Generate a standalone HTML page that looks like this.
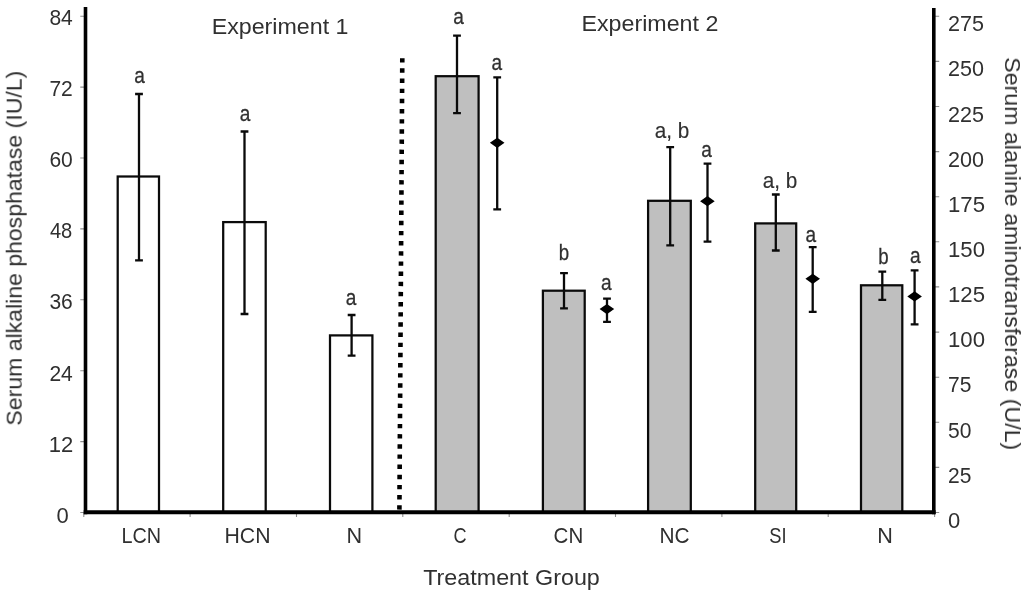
<!DOCTYPE html>
<html lang="en">
<head>
<meta charset="utf-8">
<title>Serum alkaline phosphatase and alanine aminotransferase by treatment group</title>
<style>
html,body{margin:0;padding:0;background:#fff;}
body{width:1024px;height:596px;overflow:hidden;}
svg{display:block;}
text{font-family:"Liberation Sans", sans-serif;fill:#303030;}
</style>
</head>
<body>
<svg width="1024" height="596" viewBox="0 0 1024 596">
<defs><filter id="soft" x="0" y="0" width="1024" height="596" filterUnits="userSpaceOnUse" color-interpolation-filters="sRGB"><feGaussianBlur stdDeviation="0.45"/></filter></defs>
<rect x="0" y="0" width="1024" height="596" fill="#ffffff"/>
<g filter="url(#soft)">
<g stroke="#0a0a0a" stroke-width="2.25" stroke-linejoin="miter">
<rect x="117.7" y="176.5" width="41.3" height="335.8" fill="#ffffff"/>
<rect x="223.2" y="222.1" width="42.5" height="290.2" fill="#ffffff"/>
<rect x="330.0" y="335.4" width="42.4" height="176.9" fill="#ffffff"/>
<rect x="435.7" y="76.2" width="42.9" height="436.1" fill="#bfbfbf"/>
<rect x="542.9" y="290.7" width="41.8" height="221.6" fill="#bfbfbf"/>
<rect x="648.1" y="200.8" width="42.7" height="311.5" fill="#bfbfbf"/>
<rect x="755.2" y="223.4" width="41.0" height="288.9" fill="#bfbfbf"/>
<rect x="861.0" y="285.3" width="41.3" height="227.0" fill="#bfbfbf"/>
</g>
<path d="M139.0 94.0V260.4M135.1 94.0H142.9M135.1 260.4H142.9M244.5 131.5V314.0M240.6 131.5H248.4M240.6 314.0H248.4M351.6 315.0V355.6M347.7 315.0H355.5M347.7 355.6H355.5M457.0 35.7V113.2M453.1 35.7H460.9M453.1 113.2H460.9M564.0 273.1V308.3M560.1 273.1H567.9M560.1 308.3H567.9M670.2 147.2V245.4M666.3 147.2H674.1M666.3 245.4H674.1M775.8 194.5V250.5M771.9 194.5H779.7M771.9 250.5H779.7M882.3 271.7V299.8M878.4 271.7H886.2M878.4 299.8H886.2M497.2 77.3V209.3M493.3 77.3H501.1M493.3 209.3H501.1M607.0 298.6V321.8M603.1 298.6H610.9M603.1 321.8H610.9M707.5 163.6V241.7M703.6 163.6H711.4M703.6 241.7H711.4M812.7 247.1V311.8M808.8 247.1H816.6M808.8 311.8H816.6M914.6 270.4V324.3M910.7 270.4H918.5M910.7 324.3H918.5" fill="none" stroke="#0a0a0a" stroke-width="2.3"/>
<path d="M489.9 142.8L497.2 137.7L504.5 142.8L497.2 147.9ZM599.6 309.1L606.9 304.0L614.2 309.1L606.9 314.2ZM700.1 201.2L707.4 196.1L714.7 201.2L707.4 206.3ZM805.4 278.8L812.7 273.7L820.0 278.8L812.7 283.9ZM907.3 296.4L914.6 291.3L921.9 296.4L914.6 301.5Z" fill="#000000"/>
<line x1="402.3" y1="58.2" x2="399.4" y2="510.4" stroke="#000000" stroke-width="4.6" stroke-dasharray="4.4 5.76"/>
<path d="M80.3 512.5H84.5M80.3 441.6H84.5M80.3 370.7H84.5M80.3 299.8H84.5M80.3 228.9H84.5M80.3 158.0H84.5M80.3 87.1H84.5M80.3 16.2H84.5M935 512.5H939.2M935 467.4H939.2M935 422.3H939.2M935 377.2H939.2M935 332.1H939.2M935 286.9H939.2M935 241.8H939.2M935 196.7H939.2M935 151.6H939.2M935 106.5H939.2M935 61.4H939.2M935 16.3H939.2M83.8 513.5V517M190.1 513.5V517M296.5 513.5V517M402.8 513.5V517M509.2 513.5V517M615.5 513.5V517M721.9 513.5V517M828.2 513.5V517M934.6 513.5V517" fill="none" stroke="#8f8f8f" stroke-width="1.1"/>
<g stroke="#000000" fill="none">
<line x1="85.5" y1="7.0" x2="85.5" y2="514.3" stroke-width="3.6"/>
<line x1="933.8" y1="8.0" x2="933.8" y2="514.3" stroke-width="3.6"/>
<line x1="83.7" y1="512.3" x2="935.6" y2="512.3" stroke-width="4"/>
</g>
<text x="62.6" y="522.6" font-size="22.0" text-anchor="middle">0</text>
<text x="61.1" y="451.5" font-size="22.0" text-anchor="middle" textLength="24.5" lengthAdjust="spacingAndGlyphs">12</text>
<text x="61.1" y="380.5" font-size="22.0" text-anchor="middle" textLength="23.4" lengthAdjust="spacingAndGlyphs">24</text>
<text x="61.1" y="309.4" font-size="22.0" text-anchor="middle" textLength="23.4" lengthAdjust="spacingAndGlyphs">36</text>
<text x="61.1" y="238.3" font-size="22.0" text-anchor="middle" textLength="22.4" lengthAdjust="spacingAndGlyphs">48</text>
<text x="61.1" y="167.3" font-size="22.0" text-anchor="middle" textLength="23.4" lengthAdjust="spacingAndGlyphs">60</text>
<text x="61.1" y="96.2" font-size="22.0" text-anchor="middle" textLength="23.4" lengthAdjust="spacingAndGlyphs">72</text>
<text x="61.1" y="25.1" font-size="22.0" text-anchor="middle" textLength="23.4" lengthAdjust="spacingAndGlyphs">84</text>
<text x="948.0" y="527.9" font-size="22.0" text-anchor="start">0</text>
<text x="948.0" y="482.8" font-size="22.0" text-anchor="start" textLength="23.4" lengthAdjust="spacingAndGlyphs">25</text>
<text x="948.0" y="437.6" font-size="22.0" text-anchor="start" textLength="23.4" lengthAdjust="spacingAndGlyphs">50</text>
<text x="948.0" y="392.4" font-size="22.0" text-anchor="start" textLength="23.4" lengthAdjust="spacingAndGlyphs">75</text>
<text x="948.0" y="347.3" font-size="22.0" text-anchor="start" textLength="37.0" lengthAdjust="spacingAndGlyphs">100</text>
<text x="948.0" y="302.1" font-size="22.0" text-anchor="start" textLength="37.0" lengthAdjust="spacingAndGlyphs">125</text>
<text x="948.0" y="257.0" font-size="22.0" text-anchor="start" textLength="37.0" lengthAdjust="spacingAndGlyphs">150</text>
<text x="948.0" y="211.8" font-size="22.0" text-anchor="start" textLength="37.0" lengthAdjust="spacingAndGlyphs">175</text>
<text x="948.0" y="166.7" font-size="22.0" text-anchor="start" textLength="36.0" lengthAdjust="spacingAndGlyphs">200</text>
<text x="948.0" y="121.5" font-size="22.0" text-anchor="start" textLength="36.0" lengthAdjust="spacingAndGlyphs">225</text>
<text x="948.0" y="76.4" font-size="22.0" text-anchor="start" textLength="36.0" lengthAdjust="spacingAndGlyphs">250</text>
<text x="948.0" y="31.2" font-size="22.0" text-anchor="start" textLength="36.0" lengthAdjust="spacingAndGlyphs">275</text>
<text x="141.2" y="543.4" font-size="22.0" text-anchor="middle" textLength="39.6" lengthAdjust="spacingAndGlyphs">LCN</text>
<text x="247.5" y="543.4" font-size="22.0" text-anchor="middle" textLength="46.0" lengthAdjust="spacingAndGlyphs">HCN</text>
<text x="354.4" y="543.4" font-size="22.0" text-anchor="middle" textLength="15.6" lengthAdjust="spacingAndGlyphs">N</text>
<text x="460.0" y="543.4" font-size="22.0" text-anchor="middle" textLength="13.1" lengthAdjust="spacingAndGlyphs">C</text>
<text x="568.4" y="543.4" font-size="22.0" text-anchor="middle" textLength="29.6" lengthAdjust="spacingAndGlyphs">CN</text>
<text x="674.5" y="543.4" font-size="22.0" text-anchor="middle" textLength="30.1" lengthAdjust="spacingAndGlyphs">NC</text>
<text x="778.0" y="543.4" font-size="22.0" text-anchor="middle" textLength="17.3" lengthAdjust="spacingAndGlyphs">SI</text>
<text x="885.0" y="543.4" font-size="22.0" text-anchor="middle" textLength="15.6" lengthAdjust="spacingAndGlyphs">N</text>
<text x="511.5" y="585.0" font-size="22.0" text-anchor="middle" textLength="176.7" lengthAdjust="spacingAndGlyphs">Treatment Group</text>
<text x="280.1" y="33.7" font-size="22.0" text-anchor="middle" textLength="136.8" lengthAdjust="spacingAndGlyphs">Experiment 1</text>
<text x="649.9" y="31.3" font-size="22.0" text-anchor="middle" textLength="136.8" lengthAdjust="spacingAndGlyphs">Experiment 2</text>
<text x="139.5" y="82.5" font-size="21.6" text-anchor="middle" textLength="10.6" lengthAdjust="spacingAndGlyphs" stroke="#303030" stroke-width="0.28">a</text>
<text x="245.0" y="120.5" font-size="21.6" text-anchor="middle" textLength="10.6" lengthAdjust="spacingAndGlyphs" stroke="#303030" stroke-width="0.28">a</text>
<text x="351.0" y="304.5" font-size="21.6" text-anchor="middle" textLength="10.6" lengthAdjust="spacingAndGlyphs" stroke="#303030" stroke-width="0.28">a</text>
<text x="458.5" y="24.1" font-size="21.6" text-anchor="middle" textLength="10.6" lengthAdjust="spacingAndGlyphs" stroke="#303030" stroke-width="0.28">a</text>
<text x="496.8" y="70.1" font-size="21.6" text-anchor="middle" textLength="10.6" lengthAdjust="spacingAndGlyphs" stroke="#303030" stroke-width="0.28">a</text>
<text x="564.0" y="260.1" font-size="22.0" text-anchor="middle" textLength="10.4" lengthAdjust="spacingAndGlyphs" stroke="#303030" stroke-width="0.28">b</text>
<text x="606.2" y="289.6" font-size="21.6" text-anchor="middle" textLength="10.6" lengthAdjust="spacingAndGlyphs" stroke="#303030" stroke-width="0.28">a</text>
<text x="672.0" y="138.0" font-size="22.0" text-anchor="middle" textLength="34.6" lengthAdjust="spacingAndGlyphs" stroke="#303030" stroke-width="0.15">a, b</text>
<text x="706.6" y="156.9" font-size="21.6" text-anchor="middle" textLength="10.6" lengthAdjust="spacingAndGlyphs" stroke="#303030" stroke-width="0.28">a</text>
<text x="780.0" y="187.5" font-size="22.0" text-anchor="middle" textLength="34.6" lengthAdjust="spacingAndGlyphs" stroke="#303030" stroke-width="0.15">a, b</text>
<text x="810.8" y="242.1" font-size="21.6" text-anchor="middle" textLength="10.6" lengthAdjust="spacingAndGlyphs" stroke="#303030" stroke-width="0.28">a</text>
<text x="883.5" y="264.3" font-size="22.0" text-anchor="middle" textLength="10.4" lengthAdjust="spacingAndGlyphs" stroke="#303030" stroke-width="0.28">b</text>
<text x="915.3" y="262.8" font-size="21.6" text-anchor="middle" textLength="10.6" lengthAdjust="spacingAndGlyphs" stroke="#303030" stroke-width="0.28">a</text>
<text transform="translate(21.7 248.2) rotate(-90)" font-size="22.0" text-anchor="middle" textLength="354.8" lengthAdjust="spacingAndGlyphs">Serum alkaline phosphatase (IU/L)</text>
<text transform="translate(1005.0 253.7) rotate(90)" font-size="22.0" text-anchor="middle" textLength="393.1" lengthAdjust="spacingAndGlyphs">Serum alanine aminotransferase (U/L)</text>
</g>
</svg>
</body>
</html>
